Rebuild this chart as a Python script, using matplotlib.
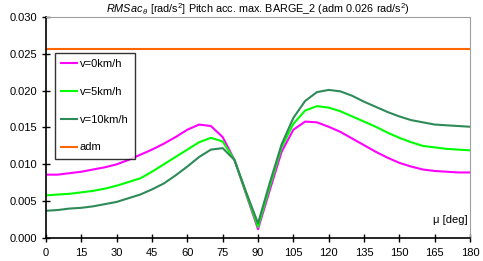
import matplotlib
matplotlib.use("Agg")
import matplotlib.pyplot as plt

plt.rcParams['font.family'] = ['Liberation Sans', 'DejaVu Sans']
plt.rcParams['mathtext.fontset'] = 'custom'
plt.rcParams['mathtext.rm'] = 'Liberation Sans'
plt.rcParams['mathtext.it'] = 'Liberation Sans:italic'

# heading angle mu [deg]
mu = list(range(0, 181, 5))

# RMS pitch acceleration [rad/s^2]
v0 = [0.0086, 0.0086, 0.0088, 0.0090, 0.0093, 0.0096, 0.0100, 0.0106, 0.0113,
      0.0120, 0.0128, 0.0137, 0.0147, 0.0154, 0.0152, 0.0137, 0.0106, 0.0059,
      0.0012, 0.0065, 0.0117, 0.0147, 0.0158, 0.0157, 0.0151, 0.0144, 0.0135,
      0.0126, 0.0117, 0.0109, 0.0102, 0.0097, 0.0093, 0.0091, 0.0090, 0.0089,
      0.0089]
v5 = [0.0058, 0.0059, 0.0060, 0.0062, 0.0064, 0.0067, 0.0071, 0.0076, 0.0081,
      0.0090, 0.0100, 0.0110, 0.0120, 0.0130, 0.0136, 0.0131, 0.0106, 0.0060,
      0.0015, 0.0070, 0.0123, 0.0155, 0.0173, 0.0179, 0.0177, 0.0172, 0.0165,
      0.0158, 0.0151, 0.0143, 0.0136, 0.0130, 0.0125, 0.0123, 0.0121, 0.0120,
      0.0119]
v10 = [0.0037, 0.0038, 0.0040, 0.0041, 0.0043, 0.0046, 0.0049, 0.0054, 0.0059,
       0.0066, 0.0074, 0.0085, 0.0097, 0.0110, 0.0120, 0.0122, 0.0106, 0.0062,
       0.0020, 0.0075, 0.0127, 0.0163, 0.0186, 0.0198, 0.0201, 0.0199, 0.0193,
       0.0185, 0.0178, 0.0171, 0.0165, 0.0160, 0.0157, 0.0154, 0.0153, 0.0152,
       0.0151]
adm = 0.0257

xticks = list(range(0, 181, 15))
yticks = [0.000, 0.005, 0.010, 0.015, 0.020, 0.025, 0.030]

fig = plt.figure(figsize=(4.83, 2.61), dpi=100)
ax = fig.add_axes([0.0952, 0.088, 0.878, 0.847])

ax.plot(mu, v0, color="#ff00ff", lw=1.5, label="v=0km/h")
ax.plot(mu, v5, color="#00ff00", lw=1.5, label="v=5km/h")
ax.plot(mu, v10, color="#2e8b57", lw=1.5, label="v=10km/h")
ax.plot([mu[0], mu[-1]], [adm, adm], color="#ff6600", lw=1.5, label="adm")

ax.set_xlim(0, 180)
ax.set_ylim(0, 0.030)
ax.set_xticks(xticks)
ax.set_yticks(yticks)
ax.set_yticklabels(["%.3f" % t for t in yticks])
ax.tick_params(direction="inout", length=6, width=1, labelsize=8, colors="black")
ax.tick_params(axis="x", pad=4)

for s in ["top", "right"]:
    ax.spines[s].set_color("#a0a0a0")
for s in ["left", "bottom"]:
    ax.spines[s].set_color("black")
    ax.spines[s].set_linewidth(1.2)

ax.text(0.995, 0.06, "\u03bc [deg]", transform=ax.transAxes, ha="right",
        va="bottom", fontsize=8)
ax.set_title(r"$RMSac_{\,\theta}$ [rad/s$^2$] Pitch acc. max. BARGE_2 (adm 0.026 rad/s$^2$)",
             fontsize=7.8, pad=2)

leg = ax.legend(loc="upper left", bbox_to_anchor=(0.021, 0.837), borderaxespad=0,
                fontsize=8, frameon=True, fancybox=False, labelspacing=1.6,
                handlelength=1.4, handletextpad=0.3, borderpad=0.55)
leg.get_frame().set_edgecolor("black")
leg.get_frame().set_linewidth(1.0)

fig.savefig("out.png", dpi=100)
